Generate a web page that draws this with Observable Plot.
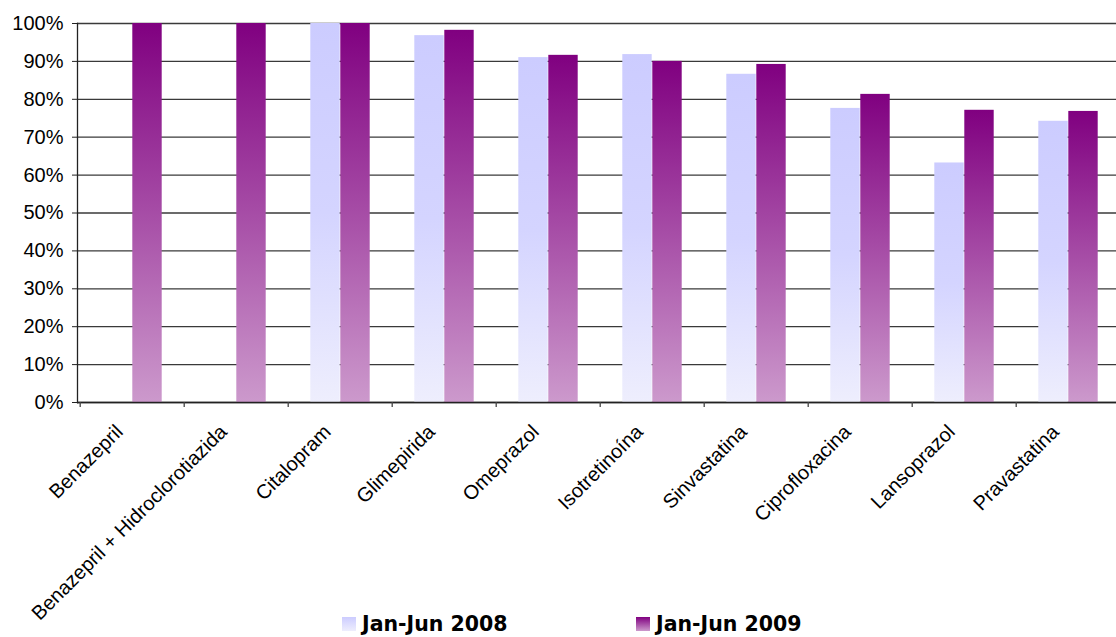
<!DOCTYPE html>
<html>
<head>
<meta charset="utf-8">
<script src="https://cdn.jsdelivr.net/npm/d3@7"></script>
<script src="https://cdn.jsdelivr.net/npm/@observablehq/plot@0.6"></script>
<style>
  body { margin: 0; background: #fff; }
  #wrap { position: relative; width: 1116px; height: 637px; overflow: hidden; }
  #wrap svg text { font-family: "Liberation Sans", Arial, sans-serif; }
  .legend { position: absolute; top: 612px; font-family: "DejaVu Sans", Verdana, sans-serif; font-weight: bold; font-size: 20.5px; color: #000; display: flex; align-items: center; white-space: nowrap; }
  .sw { width: 14px; height: 14px; margin-right: 6px; display: inline-block; }
</style>
</head>
<body>
<div id="wrap"></div>
<script>
const categories = ["Benazepril", "Benazepril + Hidroclorotiazida", "Citalopram", "Glimepirida", "Omeprazol", "Isotretinoína", "Sinvastatina", "Ciprofloxacina", "Lansoprazol", "Pravastatina"];
const series = ["Jan-Jun 2008", "Jan-Jun 2009"];
const values2008 = [null, null, 100, 96.8, 91.0, 91.8, 86.6, 77.6, 63.2, 74.2];
const values2009 = [100, 100, 100, 98.2, 91.6, 90.0, 89.2, 81.3, 77.1, 76.8];
const yTicks = [0, 10, 20, 30, 40, 50, 60, 70, 80, 90, 100];

const d2008 = categories.map((c, i) => ({category: c, value: values2008[i]})).filter(d => d.value != null);
const d2009 = categories.map((c, i) => ({category: c, value: values2009[i]}));

const bandStep = (1123 - 77) / categories.length;
const barW = 30;
const outer = bandStep / 2 - barW;

const chart = Plot.plot({
  width: 1116,
  height: 637,
  marginTop: 23,
  marginBottom: 235,
  marginLeft: 77,
  marginRight: 0,
  style: {fontFamily: "'Liberation Sans', Arial, sans-serif", background: "#fff", color: "#000"},
  x: {domain: categories, range: [77, 1123], padding: 0, label: null},
  y: {domain: [0, 100], label: null},
  marks: [
    Plot.gridY(yTicks, {stroke: "#3a3a3a", strokeOpacity: 1, strokeWidth: 1.3}),
    Plot.barY(d2008, {x: "category", y: "value", fill: "url(#g2008)", insetLeft: outer, insetRight: bandStep / 2}),
    Plot.barY(d2009, {x: "category", y: "value", fill: "url(#g2009)", insetLeft: bandStep / 2, insetRight: outer}),
    Plot.ruleY([0], {stroke: "#222", strokeWidth: 1.3}),
    Plot.frame({anchor: "left", stroke: "#222", strokeWidth: 1.3}),
    Plot.ruleX(categories, {x: d => d, dx: -bandStep / 2, y1: 0, y2: -1.35, stroke: "#444", strokeWidth: 1.3}),
    Plot.axisY(yTicks, {tickSize: 5, tickPadding: 9, fontSize: 20, tickFormat: d => d + "%", stroke: "#222"}),
    Plot.axisX({tickSize: 0, tickRotate: -45, tickPadding: 14, fontSize: 20, dx: -13, dy: 12})
  ]
});

const ns = "http://www.w3.org/2000/svg";
const defs = document.createElementNS(ns, "defs");
defs.innerHTML = `
  <linearGradient id="g2008" x1="0" y1="0" x2="0" y2="1">
    <stop offset="0" stop-color="#ccccff"/>
    <stop offset="0.5" stop-color="#d4d4ff"/>
    <stop offset="1" stop-color="#eeeefd"/>
  </linearGradient>
  <linearGradient id="g2009" x1="0" y1="0" x2="0" y2="1">
    <stop offset="0" stop-color="#800080"/>
    <stop offset="1" stop-color="#cc99cc"/>
  </linearGradient>`;
chart.insertBefore(defs, chart.firstChild);

const wrap = document.getElementById("wrap");
wrap.appendChild(chart);

const legendPos = [342, 636];
series.forEach((s, i) => {
  const el = document.createElement("div");
  el.className = "legend";
  el.style.left = legendPos[i] + "px";
  const sw = document.createElement("span");
  sw.className = "sw";
  sw.style.background = i === 0 ? "linear-gradient(#ccccff, #eeeefd)" : "linear-gradient(#800080, #cc99cc)";
  el.appendChild(sw);
  el.appendChild(document.createTextNode(s));
  wrap.appendChild(el);
});
</script>
</body>
</html>
